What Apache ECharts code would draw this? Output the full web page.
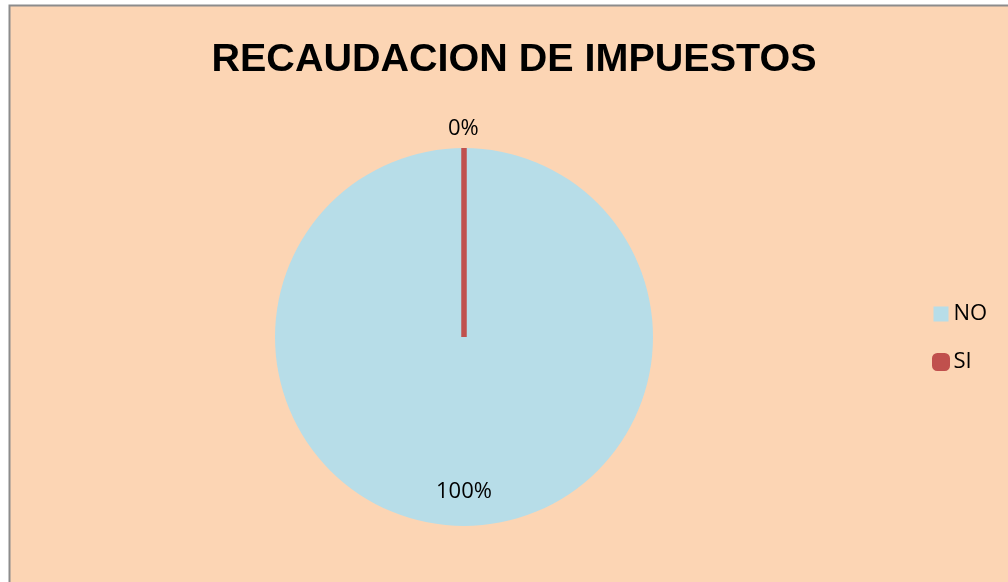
<!DOCTYPE html>
<html><head><meta charset="utf-8">
<script src="https://cdn.jsdelivr.net/npm/echarts@6/dist/echarts.min.js"></script>
<style>html,body{margin:0;padding:0;background:#fff}#c{width:1008px;height:582px}</style>
</head><body><div id="c"></div>
<script>
const title = 'RECAUDACION DE IMPUESTOS';
const categories = ['NO', 'SI'];
const values = [100, 0];
const colors = ['#B7DDE8', '#C0504D'];

const chart = echarts.init(document.getElementById('c'), null, {renderer: 'canvas'});
const data = categories.map((name, i) => {
  const item = {name, value: values[i], itemStyle: {color: colors[i]}};
  if (i === 0) {
    item.label = {position: 'inside', offset: [0, 57]};
  } else {
    item.itemStyle.borderColor = colors[i];
    item.itemStyle.borderWidth = 5.5;
    item.itemStyle.borderJoin = 'bevel';
    item.itemStyle.borderCap = 'butt';
    item.label = {position: 'outside', distanceToLabelLine: 0, offset: [-16, 1]};
    item.labelLine = {show: false, length: 20, length2: 0};
  }
  return item;
});
chart.setOption({
  backgroundColor: '#fff',
  animation: false,
  graphic: [{type: 'rect', z: -10, shape: {x: 9.5, y: 5.5, width: 1010, height: 590}, style: {fill: '#FCD5B4', stroke: '#8c8c8c', lineWidth: 2}}],
  title: {text: title, left: 509, top: 35, textAlign: 'center',
    textStyle: {fontFamily: 'Liberation Sans', fontWeight: 'bold', fontSize: 39.5, color: '#000'}},
  legend: {orient: 'vertical', left: 932, top: 303, padding: 0, itemWidth: 15, itemHeight: 15, itemGap: 26,
    icon: 'rect',
    data: [{name: 'NO'}, {name: 'SI', icon: 'roundRect', itemStyle: {borderColor: '#C0504D', borderWidth: 3}}],
    textStyle: {fontFamily: 'Open Sans', fontSize: 22, lineHeight: 22, color: '#000'}},
  series: [{
    type: 'pie', center: [464, 337], radius: [0, 189], startAngle: 90, clockwise: true,
    percentPrecision: 0, stillShowZeroSum: true, minAngle: 0,
    label: {formatter: '{d}%', fontFamily: 'Open Sans', fontSize: 22, color: '#000'},
    emphasis: {disabled: true},
    data
  }]
});
</script></body></html>
